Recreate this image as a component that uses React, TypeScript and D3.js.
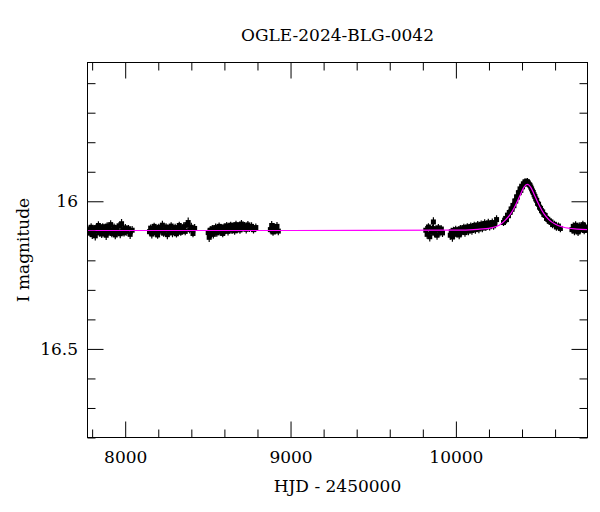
import * as d3 from 'd3';
import React, { useEffect, useRef } from 'react';

// [HJD - 2450000, I mag, error]
type Obs = [number, number, number];

const TITLE = "OGLE-2024-BLG-0042";
const X_LABEL = "HJD - 2450000";
const Y_LABEL = "I magnitude";

const X_DOMAIN: [number, number] = [7772, 10796];
const Y_DOMAIN: [number, number] = [15.53, 16.8];
const X_MAJOR_TICKS = [8000, 9000, 10000];
const Y_MAJOR_TICKS = [16, 16.5];

const SEASON_2018: Obs[] = [
  [7781, 16.096, 0.013], [7788, 16.108, 0.012], [7794, 16.088, 0.014], [7801, 16.113, 0.015],
  [7806, 16.093, 0.012], [7812, 16.103, 0.013], [7819, 16.117, 0.016], [7825, 16.089, 0.012],
  [7831, 16.100, 0.013], [7838, 16.082, 0.014], [7844, 16.107, 0.012], [7851, 16.095, 0.015],
  [7858, 16.111, 0.013], [7864, 16.086, 0.012], [7871, 16.101, 0.013], [7878, 16.092, 0.012],
  [7885, 16.115, 0.016], [7891, 16.084, 0.013], [7898, 16.105, 0.012], [7905, 16.096, 0.013],
  [7912, 16.079, 0.015], [7919, 16.109, 0.013], [7926, 16.099, 0.012], [7933, 16.088, 0.013],
  [7940, 16.114, 0.015], [7948, 16.094, 0.013], [7955, 16.104, 0.012], [7963, 16.083, 0.013],
  [7970, 16.110, 0.015], [7978, 16.076, 0.016], [7985, 16.097, 0.013], [7993, 16.107, 0.012],
  [8001, 16.090, 0.013], [8010, 16.102, 0.015], [8020, 16.093, 0.013], [8030, 16.112, 0.016],
  [8042, 16.098, 0.014],
];

const SEASON_2019: Obs[] = [
  [8147, 16.103, 0.013], [8154, 16.091, 0.012], [8161, 16.111, 0.015], [8168, 16.096, 0.013],
  [8175, 16.085, 0.012], [8182, 16.106, 0.013], [8189, 16.099, 0.015], [8196, 16.114, 0.013],
  [8203, 16.088, 0.012], [8210, 16.101, 0.013], [8218, 16.094, 0.013], [8225, 16.081, 0.015],
  [8232, 16.108, 0.012], [8240, 16.097, 0.013], [8247, 16.087, 0.013], [8255, 16.113, 0.016],
  [8262, 16.092, 0.012], [8270, 16.103, 0.013], [8278, 16.084, 0.013], [8286, 16.107, 0.015],
  [8294, 16.096, 0.012], [8302, 16.089, 0.013], [8310, 16.110, 0.013], [8318, 16.099, 0.015],
  [8327, 16.082, 0.013], [8336, 16.105, 0.012], [8345, 16.093, 0.013], [8354, 16.086, 0.015],
  [8363, 16.102, 0.013], [8372, 16.079, 0.013], [8381, 16.072, 0.017], [8390, 16.096, 0.013],
  [8400, 16.088, 0.015], [8410, 16.109, 0.013], [8420, 16.092, 0.015],
];

const SEASON_2020: Obs[] = [
  [8502, 16.106, 0.014], [8508, 16.122, 0.016], [8514, 16.098, 0.013], [8520, 16.110, 0.015],
  [8527, 16.093, 0.013], [8533, 16.112, 0.014], [8540, 16.101, 0.013], [8547, 16.089, 0.014],
  [8554, 16.107, 0.013], [8561, 16.095, 0.012], [8568, 16.085, 0.013], [8575, 16.104, 0.013],
  [8583, 16.092, 0.014], [8590, 16.109, 0.013], [8598, 16.087, 0.012], [8606, 16.099, 0.013],
  [8614, 16.083, 0.013], [8622, 16.102, 0.014], [8630, 16.091, 0.013], [8638, 16.081, 0.012],
  [8646, 16.098, 0.013], [8654, 16.086, 0.014], [8662, 16.100, 0.013], [8670, 16.079, 0.013],
  [8678, 16.093, 0.015], [8686, 16.084, 0.013], [8694, 16.097, 0.013], [8703, 16.077, 0.014],
  [8712, 16.090, 0.013], [8722, 16.083, 0.013], [8732, 16.095, 0.014], [8742, 16.080, 0.013],
  [8752, 16.091, 0.013], [8764, 16.085, 0.014], [8776, 16.096, 0.013], [8790, 16.089, 0.014],
];

const SEASON_2020B: Obs[] = [
  [8878, 16.096, 0.013], [8886, 16.082, 0.015], [8894, 16.104, 0.013], [8902, 16.088, 0.014],
  [8910, 16.099, 0.013], [8918, 16.085, 0.015], [8926, 16.101, 0.014],
];

const SEASON_2022: Obs[] = [
  [9818, 16.098, 0.014], [9826, 16.112, 0.015], [9834, 16.087, 0.013], [9842, 16.120, 0.016],
  [9850, 16.103, 0.014], [9858, 16.092, 0.013], [9864, 16.070, 0.016], [9871, 16.108, 0.014],
  [9878, 16.095, 0.013], [9886, 16.115, 0.015], [9894, 16.090, 0.013], [9903, 16.105, 0.014],
  [9912, 16.094, 0.013], [9919, 16.107, 0.014],
];

const SEASON_2023: Obs[] = [
  [9966, 16.115, 0.015], [9972, 16.103, 0.013], [9979, 16.121, 0.016], [9985, 16.099, 0.013],
  [9992, 16.112, 0.014], [9999, 16.096, 0.013], [10006, 16.109, 0.014], [10013, 16.099, 0.013],
  [10020, 16.114, 0.015], [10027, 16.093, 0.013], [10034, 16.105, 0.014], [10041, 16.098, 0.013],
  [10048, 16.089, 0.013], [10055, 16.106, 0.014], [10062, 16.095, 0.013], [10069, 16.087, 0.013],
  [10076, 16.101, 0.014], [10083, 16.093, 0.013], [10090, 16.085, 0.013], [10097, 16.099, 0.014],
  [10104, 16.091, 0.013], [10111, 16.082, 0.013], [10118, 16.096, 0.014], [10125, 16.088, 0.013],
  [10132, 16.080, 0.013], [10139, 16.094, 0.014], [10146, 16.086, 0.013], [10153, 16.078, 0.013],
  [10160, 16.091, 0.014], [10167, 16.084, 0.013], [10174, 16.075, 0.014], [10181, 16.088, 0.013],
  [10188, 16.081, 0.013], [10196, 16.073, 0.014], [10204, 16.086, 0.013], [10212, 16.078, 0.013],
  [10220, 16.072, 0.014], [10228, 16.083, 0.013], [10236, 16.076, 0.013], [10246, 16.062, 0.015],
];

const SEASON_2024: Obs[] = [
  [10288, 16.072, 0.012], [10295, 16.064, 0.012], [10301, 16.058, 0.012], [10306, 16.062, 0.013],
  [10312, 16.047, 0.012], [10318, 16.049, 0.012], [10323, 16.038, 0.012], [10329, 16.037, 0.013],
  [10334, 16.026, 0.012], [10340, 16.027, 0.012], [10345, 16.014, 0.012], [10351, 16.015, 0.013],
  [10356, 15.999, 0.012], [10362, 15.999, 0.012], [10367, 15.985, 0.012], [10372, 15.986, 0.013],
  [10378, 15.971, 0.012], [10383, 15.971, 0.012], [10388, 15.958, 0.012], [10393, 15.963, 0.013],
  [10398, 15.949, 0.012], [10403, 15.951, 0.012], [10408, 15.941, 0.012], [10413, 15.942, 0.013],
  [10418, 15.934, 0.012], [10423, 15.936, 0.012], [10428, 15.935, 0.012], [10433, 15.934, 0.013],
  [10438, 15.938, 0.012], [10443, 15.943, 0.012], [10448, 15.946, 0.012], [10453, 15.952, 0.013],
  [10458, 15.958, 0.012], [10463, 15.965, 0.012], [10468, 15.970, 0.012], [10473, 15.978, 0.013],
  [10478, 15.984, 0.012], [10483, 15.992, 0.012], [10489, 15.997, 0.012], [10494, 16.007, 0.013],
  [10500, 16.010, 0.012], [10506, 16.020, 0.012], [10512, 16.024, 0.012], [10518, 16.032, 0.013],
  [10525, 16.036, 0.012], [10532, 16.045, 0.012], [10540, 16.048, 0.012], [10548, 16.058, 0.013],
  [10556, 16.061, 0.012], [10565, 16.068, 0.012], [10575, 16.070, 0.013], [10585, 16.079, 0.012],
  [10596, 16.078, 0.012], [10608, 16.087, 0.013], [10620, 16.084, 0.012], [10632, 16.092, 0.013],
];

const SEASON_2025: Obs[] = [
  [10702, 16.096, 0.013], [10710, 16.085, 0.013], [10717, 16.101, 0.014], [10724, 16.081, 0.013],
  [10731, 16.093, 0.013], [10739, 16.104, 0.014], [10746, 16.084, 0.013], [10753, 16.096, 0.013],
  [10761, 16.089, 0.014], [10768, 16.079, 0.013], [10776, 16.099, 0.013], [10783, 16.087, 0.014],
  [10791, 16.094, 0.013],
];

// best-fit model curve
const MODEL_HJD = [
  7772, 9000, 9982, 10132, 10212, 10262, 10302, 10332, 10352, 10372, 10392, 10412,
  10432, 10452, 10472, 10492, 10512, 10532, 10562, 10602, 10652, 10732, 10796,
];
const MODEL_MAG = [
  16.099, 16.099, 16.098, 16.095, 16.090, 16.081, 16.062, 16.042, 16.023, 16.000, 15.975, 15.952,
  15.943, 15.952, 15.975, 16.000, 16.023, 16.042, 16.062, 16.078, 16.088, 16.094, 16.096,
];

const WIDTH = 600;
const HEIGHT = 512;
const MARGIN = { top: 62.5, right: 12.5, bottom: 74.5, left: 87.5 };
const FONT = "'DejaVu Serif', serif";

const LightCurve: React.FC = () => {
  const svgRef = useRef<SVGSVGElement>(null);

  useEffect(() => {
    if (!svgRef.current) { return; }
    const svg = d3.select(svgRef.current);
    svg.selectAll("*").remove();

    const plotW = WIDTH - MARGIN.left - MARGIN.right;
    const plotH = HEIGHT - MARGIN.top - MARGIN.bottom;

    const x = d3.scaleLinear().domain(X_DOMAIN).range([0, plotW]);
    const y = d3.scaleLinear().domain(Y_DOMAIN).range([0, plotH]);

    const obs: Obs[] = [
      ...SEASON_2018, ...SEASON_2019, ...SEASON_2020, ...SEASON_2020B,
      ...SEASON_2022, ...SEASON_2023, ...SEASON_2024, ...SEASON_2025,
    ];

    const chart = svg.append("g")
      .attr("transform", `translate(${MARGIN.left},${MARGIN.top})`);

    chart.append("clipPath").attr("id", "plot-clip")
      .append("rect").attr("width", plotW).attr("height", plotH);

    const marks = chart.append("g").attr("clip-path", "url(#plot-clip)");

    // error bars
    marks.append("g")
      .selectAll("line")
      .data(obs)
      .enter().append("line")
      .attr("x1", d => x(d[0]))
      .attr("x2", d => x(d[0]))
      .attr("y1", d => y(d[1] - d[2]))
      .attr("y2", d => y(d[1] + d[2]))
      .attr("stroke", "#000")
      .attr("stroke-width", 1.2);

    // points
    marks.append("g")
      .selectAll("rect")
      .data(obs)
      .enter().append("rect")
      .attr("x", d => x(d[0]) - 2.5)
      .attr("y", d => y(d[1]) - 2.5)
      .attr("width", 5)
      .attr("height", 5)
      .attr("fill", "#000");

    // model
    const line = d3.line<number>()
      .x((_, i) => x(MODEL_HJD[i]))
      .y(d => y(d))
      .curve(d3.curveMonotoneX);

    marks.append("path")
      .datum(MODEL_MAG)
      .attr("fill", "none")
      .attr("stroke", "#ff00ff")
      .attr("stroke-width", 1.2)
      .attr("d", line);

    // ticks on all four sides, pointing inward
    const xMinor = d3.range(7800, 10800, 200).filter(v => !X_MAJOR_TICKS.includes(v));
    const yMinor = d3.range(15.6, 16.81, 0.1)
      .map(v => Math.round(v * 10) / 10)
      .filter(v => !Y_MAJOR_TICKS.includes(v));

    const styleAxis = (g: d3.Selection<SVGGElement, unknown, null, undefined>) => {
      g.select(".domain").remove();
      g.selectAll(".tick line").attr("stroke", "#000");
      g.selectAll(".tick text")
        .attr("fill", "#000")
        .style("font-family", FONT)
        .style("font-size", "17px");
    };

    chart.append("g")
      .attr("transform", `translate(0,${plotH})`)
      .call(d3.axisBottom(x).tickValues(X_MAJOR_TICKS).tickSize(-16).tickPadding(13.5)
        .tickFormat(d => String(d)))
      .call(styleAxis);
    chart.append("g")
      .attr("transform", `translate(0,${plotH})`)
      .call(d3.axisBottom(x).tickValues(xMinor).tickSize(-8).tickFormat(() => ""))
      .call(styleAxis);
    chart.append("g")
      .call(d3.axisTop(x).tickValues(X_MAJOR_TICKS).tickSize(-16).tickFormat(() => ""))
      .call(styleAxis);
    chart.append("g")
      .call(d3.axisTop(x).tickValues(xMinor).tickSize(-8).tickFormat(() => ""))
      .call(styleAxis);

    chart.append("g")
      .call(d3.axisLeft(y).tickValues(Y_MAJOR_TICKS).tickSize(-16).tickPadding(9.5)
        .tickFormat(d => String(d)))
      .call(styleAxis);
    chart.append("g")
      .call(d3.axisLeft(y).tickValues(yMinor).tickSize(-8).tickFormat(() => ""))
      .call(styleAxis);
    chart.append("g")
      .attr("transform", `translate(${plotW},0)`)
      .call(d3.axisRight(y).tickValues(Y_MAJOR_TICKS).tickSize(-16).tickFormat(() => ""))
      .call(styleAxis);
    chart.append("g")
      .attr("transform", `translate(${plotW},0)`)
      .call(d3.axisRight(y).tickValues(yMinor).tickSize(-8).tickFormat(() => ""))
      .call(styleAxis);

    // frame
    chart.append("rect")
      .attr("width", plotW)
      .attr("height", plotH)
      .attr("fill", "none")
      .attr("stroke", "#000")
      .attr("stroke-width", 1);

    // labels
    svg.append("text")
      .attr("x", MARGIN.left + plotW / 2)
      .attr("y", 41)
      .attr("text-anchor", "middle")
      .style("font-family", FONT)
      .style("font-size", "17px")
      .text(TITLE);

    svg.append("text")
      .attr("x", MARGIN.left + plotW / 2)
      .attr("y", 492)
      .attr("text-anchor", "middle")
      .style("font-family", FONT)
      .style("font-size", "17px")
      .text(X_LABEL);

    svg.append("text")
      .attr("transform", `translate(29,${MARGIN.top + plotH / 2}) rotate(-90)`)
      .attr("text-anchor", "middle")
      .style("font-family", FONT)
      .style("font-size", "17px")
      .text(Y_LABEL);
  }, []);

  return (
    <svg
      ref={svgRef}
      width={WIDTH}
      height={HEIGHT}
      style={{ position: "absolute", left: 0, top: 0, background: "#fff" }}
    />
  );
};

export default function App() {
  return <LightCurve />;
}
